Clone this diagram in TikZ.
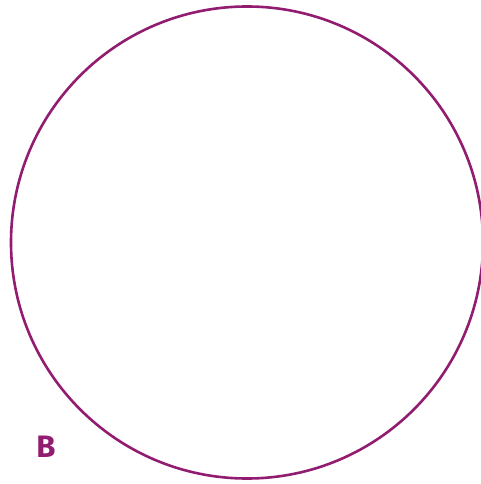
\documentclass[tikz,border=0pt]{standalone}
\usepackage{fontspec}
\setsansfont{Fira Sans}
\usepackage{xcolor}
\usetikzlibrary{positioning}
\definecolor{ringpurple}{RGB}{145,28,112}

\begin{document}
\begin{tikzpicture}[
  x=1pt, y=-1pt,
  ring/.style={draw=ringpurple, line width=2.6pt, circle, inner sep=0pt, minimum size=472pt},
  tag/.style={text=ringpurple, font=\sffamily\bfseries\fontsize{31}{31}\selectfont, inner sep=0pt}
]
  \useasboundingbox (0,0) rectangle (480,484);
  \node[ring] (circ) at (247,242.5) {};
  \node[tag] (lbl) at (46,446.5) {B};
\end{tikzpicture}
\end{document}
